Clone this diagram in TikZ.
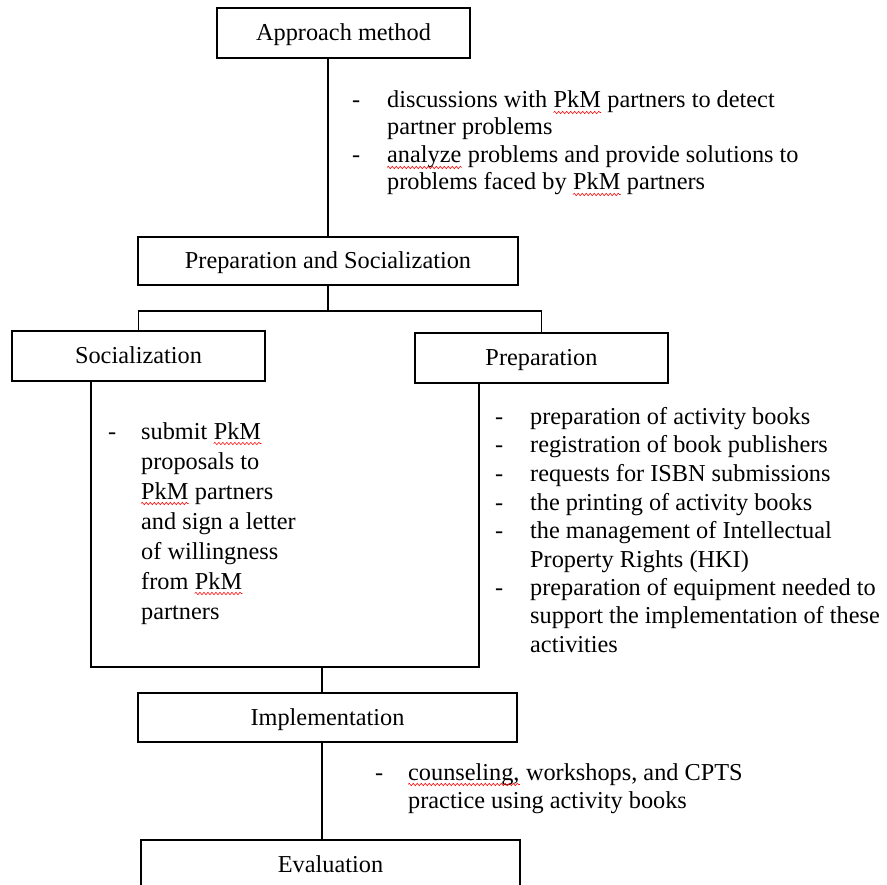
\documentclass[tikz,border=0pt]{standalone}
\usepackage{fontspec}
\setmainfont{Liberation Serif}
\usetikzlibrary{decorations.pathmorphing}
\newcommand\wsp{6.075pt}
\begin{document}
\begin{tikzpicture}[x=1pt,y=-1pt,
  box/.style={draw,line width=1.3pt,inner sep=0pt,text height=18pt,text depth=3pt,font=\fontsize{24.3}{28}\selectfont},
  txt/.style={anchor=base west,inner sep=0pt,font=\fontsize{24.3}{28}\selectfont},
  conn/.style={line width=1.3pt},
  spell/.style={red,line width=0.55pt,decorate,decoration={snake,amplitude=1.2pt,segment length=4pt}}]
\useasboundingbox (0,0) rectangle (887,885);
% boxes
\node[box,minimum width=253,minimum height=50] (am) at (343.5,33) {Approach method};
\node[box,minimum width=380,minimum height=48] (ps) at (328,261) {Preparation and Socialization};
\node[box,minimum width=253,minimum height=50] (soc) at (138.5,356) {Socialization};
\node[box,minimum width=253,minimum height=50] (prep) at (541.5,358) {Preparation};
\node[box,minimum width=379,minimum height=49] (impl) at (327.5,717.5) {Implementation};
\node[box,minimum width=379,minimum height=50] (eval) at (330.5,865) {Evaluation};
% connectors
\coordinate (jn) at (328,311);
\coordinate (ul) at (91,667);
\coordinate (ur) at (479,667);
\coordinate (ud) at (322,667);
\draw[conn] (am.south -| ps.north) -- (ps.north);
\draw[conn] (ps.south) -- (jn);
\draw[conn] (soc.north) -- (soc.north |- jn) -- (prep.north |- jn) -- (prep.north);
\draw[conn] (soc.south -| ul) -- (ul) -- (ur) -- (prep.south -| ur);
\draw[conn] (ud) -- (impl.north -| ud);
\draw[conn] (impl.south -| ud) -- (eval.north -| ud);
% approach bullets
\node[txt] (ad1) at (352,108) {-};
\node[txt] (a1a) at (387,108) {discussions with};
\node[txt] (w1) at ([xshift=\wsp]a1a.base east) {PkM};
\node[txt] (a1b) at ([xshift=\wsp]w1.base east) {partners to detect};
\node[txt] (a2) at (387,135) {partner problems};
\node[txt] (ad2) at (352,163) {-};
\node[txt] (w2) at (387,163) {analyze};
\node[txt] (a3) at ([xshift=\wsp]w2.base east) {problems and provide solutions to};
\node[txt] (a4a) at (387,190) {problems faced by};
\node[txt] (w3) at ([xshift=\wsp]a4a.base east) {PkM};
\node[txt] (a4b) at ([xshift=\wsp]w3.base east) {partners};
% socialization bullets
\node[txt] (sd1) at (108,439) {-};
\node[txt] (s1) at (141,439) {submit};
\node[txt] (w4) at ([xshift=\wsp]s1.base east) {PkM};
\node[txt] (s2) at (141,469) {proposals to};
\node[txt] (w5) at (141,499) {PkM};
\node[txt] (s3) at ([xshift=\wsp]w5.base east) {partners};
\node[txt] (s4) at (141,529) {and sign a letter};
\node[txt] (s5) at (141,559) {of willingness};
\node[txt] (s6) at (141,589) {from};
\node[txt] (w6) at ([xshift=\wsp]s6.base east) {PkM};
\node[txt] (s7) at (141,619) {partners};
% preparation bullets
\node[txt] (pd1) at (495,425) {-};
\node[txt] (p1) at (530,425) {preparation of activity books};
\node[txt] (pd2) at (495,453) {-};
\node[txt] (p2) at (530,453) {registration of book publishers};
\node[txt] (pd3) at (495,482) {-};
\node[txt] (p3) at (530,482) {requests for ISBN submissions};
\node[txt] (pd4) at (495,510) {-};
\node[txt] (p4) at (530,510) {the printing of activity books};
\node[txt] (pd5) at (495,538) {-};
\node[txt] (p5) at (530,538) {the management of Intellectual};
\node[txt] (p6) at (530,567) {Property Rights (HKI)};
\node[txt] (pd6) at (495,595) {-};
\node[txt] (p7) at (530,595) {preparation of equipment needed to};
\node[txt] (p8) at (530,623) {support the implementation of these};
\node[txt] (p9) at (530,652) {activities};
% implementation bullets
\node[txt] (id1) at (375,780) {-};
\node[txt] (w7) at (408,780) {counseling,};
\node[txt] (i1) at ([xshift=\wsp]w7.base east) {workshops, and CPTS};
\node[txt] (i2) at (408,808) {practice using activity books};
% spell-check squiggles
\foreach \w in {w1,w2,w3,w4,w5,w6,w7}
  \draw[spell] ([yshift=-4.5pt]\w.base west) -- ([yshift=-4.5pt]\w.base east);
\end{tikzpicture}
\end{document}
